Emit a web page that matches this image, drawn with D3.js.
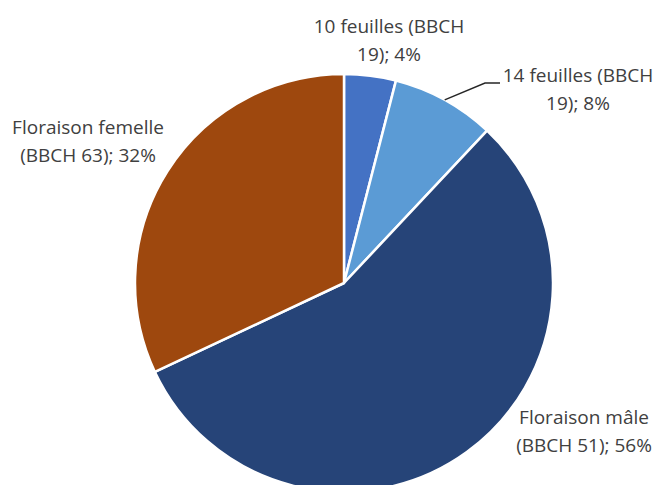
<!DOCTYPE html>
<html>
<head>
<meta charset="utf-8">
<script src="https://cdn.jsdelivr.net/npm/d3@7"></script>
<style>
  html, body { margin: 0; padding: 0; background: #fff; }
  svg { display: block; }
</style>
</head>
<body>
<svg id="chart" width="657" height="485"></svg>
<script>
// Stades phénologiques : parts en %
const categories = ['10 feuilles (BBCH 19)', '14 feuilles (BBCH 19)', 'Floraison mâle (BBCH 51)', 'Floraison femelle (BBCH 63)'];
const values = [4, 8, 56, 32];
const colors = ['#4472C4', '#5B9BD5', '#264478', '#9E480E'];
// label text split in two lines, as Excel wraps them
const labelLines = [
  ['10 feuilles (BBCH', '19); 4%'],
  ['14 feuilles (BBCH', '19); 8%'],
  ['Floraison mâle', '(BBCH 51); 56%'],
  ['Floraison femelle', '(BBCH 63); 32%']
];

const width = 657, height = 485;
const cx = 344, cy = 283, radius = 209;
// label centres, relative to the pie centre
const labelOffset = [[45, -245], [234, -196], [240, 146], [-256, -144]];

const svg = d3.select('#chart');
const g = svg.append('g').attr('transform', `translate(${cx},${cy})`);

const entries = categories.map((c, i) => ({ name: c, value: values[i], color: colors[i], lines: labelLines[i], off: labelOffset[i] }));

const arcs = d3.pie()
  .value(d => d.value)
  .sort(null)(entries);

const arc = d3.arc().innerRadius(0).outerRadius(radius);

g.append('g')
  .attr('stroke', '#fff')
  .attr('stroke-width', 2.5)
  .attr('stroke-linejoin', 'round')
  .selectAll('path')
  .data(arcs)
  .join('path')
  .attr('fill', d => d.data.color)
  .attr('d', arc);

// leader line for the small "14 feuilles" slice
const lead = arcs[1];
const mid = (lead.startAngle + lead.endAngle) / 2;
const p0 = [Math.sin(mid) * radius, -Math.cos(mid) * radius];
const knee = [lead.data.off[0] - 93, lead.data.off[1] - 4];
const end = [lead.data.off[0] - 78, lead.data.off[1] - 4];
g.append('path')
  .attr('d', d3.line()([p0, knee, end]))
  .attr('fill', 'none')
  .attr('stroke', '#262626')
  .attr('stroke-width', 1.5);

// data labels
g.append('g')
  .attr('font-family', '"Open Sans", "Noto Sans", sans-serif')
  .attr('font-size', 19)
  .attr('fill', '#404040')
  .attr('text-anchor', 'middle')
  .selectAll('text')
  .data(arcs)
  .join('text')
  .attr('transform', d => `translate(${d.data.off})`)
  .call(t => t.append('tspan').attr('x', 0).attr('y', -5).text(d => d.data.lines[0]))
  .call(t => t.append('tspan').attr('x', 0).attr('y', 22.5).text(d => d.data.lines[1]));
</script>
</body>
</html>
